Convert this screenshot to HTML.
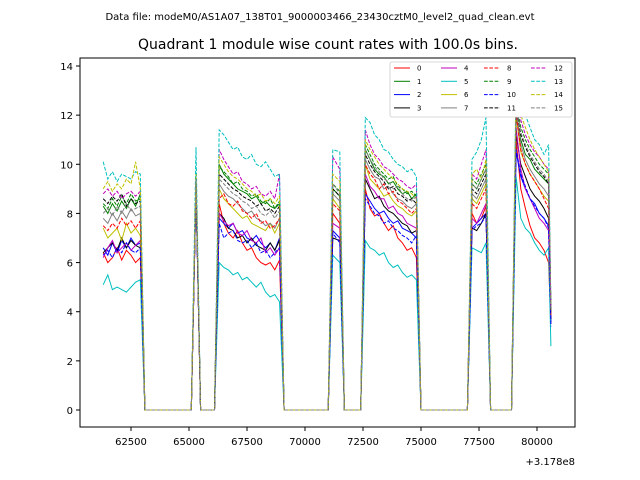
<!DOCTYPE html>
<html><head><meta charset="utf-8"><style>
body{margin:0;background:#fff;}
svg{display:block;font-family:"DejaVu Sans","Liberation Sans",sans-serif;}
</style></head><body>
<svg id="chart" width="640" height="480">
<text x="320" y="20" font-size="10" text-anchor="middle">Data file: modeM0/AS1A07_138T01_9000003466_23430cztM0_level2_quad_clean.evt</text>
<text x="328" y="49" font-size="14" text-anchor="middle">Quadrant 1 module wise count rates with 100.0s bins.</text>
<g id="plot"></g>
<g id="axes"></g>
<g id="legend"></g>
</svg>
<script>
const times=[61300,61500,61700,61900,62100,62300,62500,62700,62900,63100,65100,65300,65500,66100,66300,66500,66700,66900,67100,67300,67500,67700,67900,68100,68300,68500,68700,68900,69100,71000,71200,71500,71700,72400,72600,72800,73000,73200,73400,73600,73800,74000,74200,74400,74600,74800,75000,77000,77200,77400,77600,77800,78000,78900,79100,79300,79500,79700,79900,80100,80300,80500,80600];
const s0=[6.4,6.0,6.2,6.6,6.1,6.5,6.3,6.0,6.2,0,0,9.0,0,0,8.4,7.6,7.2,7.0,7.3,6.8,6.5,6.6,6.2,6.0,5.9,6.0,5.7,6.1,0,0,8.0,7.6,0,0,9.0,8.2,7.9,8.0,7.6,7.3,7.5,7.0,6.8,6.5,6.6,6.2,0,0,8.0,7.6,7.8,8.3,0,0,11.0,9.0,8.2,7.5,7.0,6.8,6.5,6.0,3.5];
const s1=[8.3,8.0,8.4,8.1,8.5,8.2,8.6,8.3,8.8,0,0,9.3,0,0,10.0,9.6,9.4,9.2,9.0,8.9,8.8,8.6,8.7,8.4,8.5,8.3,8.2,8.4,0,0,9.0,8.7,0,0,10.6,10.2,9.8,9.6,9.5,9.2,9.3,9.0,8.8,8.9,8.6,8.8,0,0,9.2,9.0,9.4,9.8,0,0,12.0,11.0,10.4,10.2,9.8,9.6,9.4,9.2,4.0];
const s2=[6.6,6.3,6.8,6.4,6.9,6.6,7.0,6.7,6.8,0,0,9.0,0,0,7.8,7.6,7.4,7.6,7.2,7.3,7.0,6.9,7.1,6.8,6.6,6.8,6.5,7.0,0,0,7.3,7.0,0,0,8.8,8.5,8.2,8.0,8.1,7.8,7.6,7.7,7.4,7.3,7.2,7.0,0,0,7.4,7.6,7.8,8.0,0,0,10.5,9.5,9.0,8.6,8.4,8.0,7.8,7.5,3.6];
const s3=[6.4,6.6,6.8,6.5,7.0,6.6,6.9,6.7,6.6,0,0,9.1,0,0,8.0,7.8,7.4,7.3,7.0,7.1,6.8,7.0,6.7,6.6,6.5,6.8,6.5,6.9,0,0,7.0,6.9,0,0,9.4,9.0,8.6,8.7,8.3,8.1,8.0,7.8,7.6,7.5,7.2,7.3,0,0,7.4,7.3,7.6,8.0,0,0,11.2,10.0,9.5,9.0,8.7,8.5,8.2,7.8,3.7];
const s4=[6.2,6.6,6.9,6.4,6.6,6.8,6.5,6.7,6.9,0,0,9.0,0,0,8.0,7.7,7.5,7.6,7.2,7.1,7.3,6.9,6.8,7.0,6.4,6.6,6.3,6.6,0,0,7.6,7.4,0,0,9.6,9.1,8.9,8.6,8.6,8.2,8.3,8.0,7.9,7.6,7.5,7.4,0,0,7.8,7.6,8.0,8.4,0,0,11.5,9.8,9.0,8.6,8.2,7.8,7.6,7.3,3.8];
const s5=[5.1,5.5,4.9,5.0,4.9,4.8,5.0,5.2,5.3,0,0,9.2,0,0,6.0,5.8,5.7,5.5,5.6,5.3,5.4,5.2,5.0,5.2,4.8,4.6,4.7,4.4,0,0,6.3,6.0,0,0,6.9,6.6,6.5,6.3,6.4,6.0,5.8,5.9,5.6,5.4,5.5,5.3,0,0,6.6,6.5,6.4,6.8,0,0,9.5,7.8,7.4,7.2,6.8,6.5,6.3,6.6,2.6];
const s6=[7.4,7.0,7.2,7.4,6.9,7.6,7.2,7.4,7.1,0,0,9.4,0,0,9.0,8.6,8.4,8.2,8.0,7.8,7.9,7.6,7.5,7.4,7.3,7.6,7.2,7.6,0,0,8.6,8.2,0,0,10.0,9.4,9.2,9.0,8.7,8.8,8.5,8.3,8.2,8.0,7.9,8.1,0,0,8.6,8.4,8.8,9.2,0,0,12.0,10.5,10.0,9.6,9.3,9.0,8.7,8.5,3.9];
const s7=[7.8,7.6,8.0,7.7,8.1,7.8,8.2,7.9,8.0,0,0,9.3,0,0,9.2,8.9,8.7,8.6,8.4,8.2,8.0,8.1,7.8,7.7,7.5,7.6,7.4,7.8,0,0,8.8,8.5,0,0,10.2,9.8,9.5,9.4,9.0,9.1,8.8,8.6,8.5,8.3,8.2,8.4,0,0,8.8,8.6,9.0,9.4,0,0,12.3,10.8,10.2,9.8,9.5,9.2,9.0,8.7,4.0];
const s8=[7.5,7.3,7.6,7.4,7.8,7.5,7.7,7.4,7.7,0,0,9.2,0,0,8.6,8.8,8.4,8.3,8.5,8.1,8.0,7.8,8.0,7.6,7.7,7.4,7.5,7.8,0,0,8.4,8.1,0,0,10.0,9.6,9.4,9.0,9.2,8.8,8.9,8.5,8.4,8.2,8.0,8.2,0,0,8.4,8.2,8.6,9.0,0,0,12.0,10.6,10.0,9.6,9.3,9.0,8.6,8.2,3.8];
const s9=[8.4,8.2,8.6,8.3,8.7,8.4,8.8,8.5,8.6,0,0,9.4,0,0,9.9,9.7,9.5,9.2,9.3,9.0,8.9,8.7,8.8,8.5,8.4,8.6,8.2,8.5,0,0,9.2,8.9,0,0,10.8,10.4,10.0,9.8,9.6,9.4,9.5,9.1,9.0,8.8,8.9,8.7,0,0,9.4,9.2,9.6,10.0,0,0,12.6,11.5,11.0,10.6,10.3,10.0,9.8,9.6,4.1];
const s10=[6.3,6.5,6.2,6.6,6.4,6.8,6.5,6.4,6.6,0,0,9.0,0,0,7.6,7.0,7.2,7.3,6.9,6.8,6.9,6.6,6.8,6.4,6.5,6.2,6.4,6.6,0,0,7.2,6.8,0,0,8.6,8.3,8.0,7.9,7.6,7.7,7.4,7.3,7.1,7.0,6.8,7.1,0,0,7.3,7.5,7.6,7.9,0,0,10.6,9.6,9.1,8.6,8.3,8.0,7.8,7.4,3.4];
const s11=[8.6,8.4,8.7,8.5,8.8,8.3,8.6,8.4,8.5,0,0,9.3,0,0,9.6,9.4,9.2,9.0,8.9,8.7,8.6,8.5,8.3,8.4,8.1,8.2,8.0,8.3,0,0,9.0,8.7,0,0,10.4,10.0,9.7,9.5,9.3,9.0,9.1,8.8,8.7,8.5,8.6,8.4,0,0,9.0,8.8,9.2,9.6,0,0,12.4,11.2,10.7,10.3,10.0,9.7,9.5,9.2,4.0];
const s12=[8.8,9.0,8.7,8.9,8.6,8.8,8.9,8.7,8.9,0,0,9.5,0,0,10.6,10.2,9.9,9.6,9.7,9.3,9.2,9.0,9.1,8.8,8.7,8.9,8.6,9.6,0,0,10.3,9.8,0,0,11.4,10.8,10.4,10.2,9.9,9.8,9.6,9.4,9.3,9.1,9.0,9.2,0,0,9.6,9.4,10.0,10.6,0,0,13.0,11.8,11.2,10.8,10.5,10.3,10.0,9.8,4.2];
const s13=[10.1,9.4,9.7,9.3,9.6,9.5,9.4,9.7,9.6,0,0,10.7,0,0,11.4,11.2,10.9,10.6,10.7,10.3,10.2,10.4,10.0,9.9,10.1,9.8,9.5,9.6,0,0,10.6,10.5,0,0,11.9,11.7,11.2,11.0,10.6,10.5,10.2,10.0,9.9,9.7,9.8,9.5,0,0,10.2,10.5,11.0,11.9,0,0,13.6,12.8,12.0,11.5,11.0,10.8,10.4,10.8,4.3];
const s14=[9.0,9.3,8.9,9.2,9.0,9.4,9.2,10.1,9.0,0,0,9.6,0,0,10.3,10.0,9.7,9.5,9.4,9.2,9.0,8.9,8.7,8.8,8.5,8.6,8.4,8.7,0,0,9.6,9.3,0,0,11.0,10.6,10.3,10.0,9.8,9.6,9.4,9.2,9.0,8.9,8.8,8.6,0,0,9.6,9.8,9.4,10.2,0,0,13.2,12.0,11.5,11.0,10.6,10.3,10.0,9.7,4.2];
const s15=[8.0,8.2,7.9,8.3,8.0,8.4,8.1,8.2,8.3,0,0,9.4,0,0,9.4,9.2,9.0,8.8,8.7,8.5,8.4,8.2,8.3,8.0,7.9,8.1,7.8,8.1,0,0,9.2,8.8,0,0,10.6,10.2,9.9,9.7,9.4,9.3,9.0,9.1,8.8,8.6,8.5,8.7,0,0,9.2,9.0,9.4,9.8,0,0,12.5,11.3,10.8,10.4,10.1,9.8,9.6,9.3,4.1];
const series=[s0,s1,s2,s3,s4,s5,s6,s7,s8,s9,s10,s11,s12,s13,s14,s15];
const seriesLabels=["0","1","2","3","4","5","6","7","8","9","10","11","12","13","14","15"];
const xTicks=[62500,65000,67500,70000,72500,75000,77500,80000];
const yTicks=[0,2,4,6,8,10,12,14];

const NS="http://www.w3.org/2000/svg";
const colors=["#ff0000","#008000","#0000ff","#000000","#bf00bf","#00bfbf","#bfbf00","#808080"];
const L=80,R=575,T=58,B=427;
const X0=60302,X1=81638,Y0=-0.7,Y1=14.3;
const xs=t=>L+(t-X0)/(X1-X0)*(R-L);
const ys=v=>410+(0-v)*(344/14);
function mk(tag,attrs,parent){const e=document.createElementNS(NS,tag);for(const k in attrs)e.setAttribute(k,attrs[k]);parent.appendChild(e);return e;}
const plot=document.getElementById('plot'),axes=document.getElementById('axes'),leg=document.getElementById('legend');
series.forEach((vals,i)=>{
  const d=vals.map((v,j)=>(j?'L':'M')+xs(times[j]).toFixed(1)+','+ys(v).toFixed(1)).join('');
  const p=mk('path',{d:d,fill:'none',stroke:colors[i%8],'stroke-width':1,'stroke-dasharray':i>=8?'3.7,1.6':'none'},plot);
  
  
});
const frame=mk('rect',{x:L,y:T,width:R-L,height:B-T,fill:'none',stroke:'#000','stroke-width':1},axes);


xTicks.forEach(t=>{
  const x=xs(t);
  mk('line',{x1:x,y1:B,x2:x,y2:B+4,stroke:'#000'},axes);
  const tx=mk('text',{x:x,y:B+18,'font-size':10,'text-anchor':'middle'},axes);
  tx.textContent=t;
  
  
});
yTicks.forEach(v=>{
  const y=ys(v);
  mk('line',{x1:L-4,y1:y,x2:L,y2:y,stroke:'#000'},axes);
  const tx=mk('text',{x:L-7,y:y+4,'font-size':10,'text-anchor':'end'},axes);
  tx.textContent=v;
  
  
});
const off=mk('text',{x:R,y:465,'font-size':10,'text-anchor':'end'},axes);
off.textContent='+3.178e8';


const lb=mk('rect',{x:390,y:62,width:182,height:55,fill:'#fff',stroke:'#ccc','stroke-width':0.8,rx:2},leg);


const colX=[394,441,484,531];
seriesLabels.forEach((lab,i)=>{
  const c=Math.floor(i/4),r=i%4;
  const y=68+r*13.3,x=colX[c];
  const g=mk('g',{},leg);
  
  
  mk('line',{x1:x,y1:y,x2:x+16,y2:y,stroke:colors[i%8],'stroke-width':1,'stroke-dasharray':i>=8?'3.7,1.6':'none'},g);
  const tx=mk('text',{x:x+23,y:y+2.5,'font-size':7},g);
  tx.textContent=lab;
});
</script>
</body></html>
